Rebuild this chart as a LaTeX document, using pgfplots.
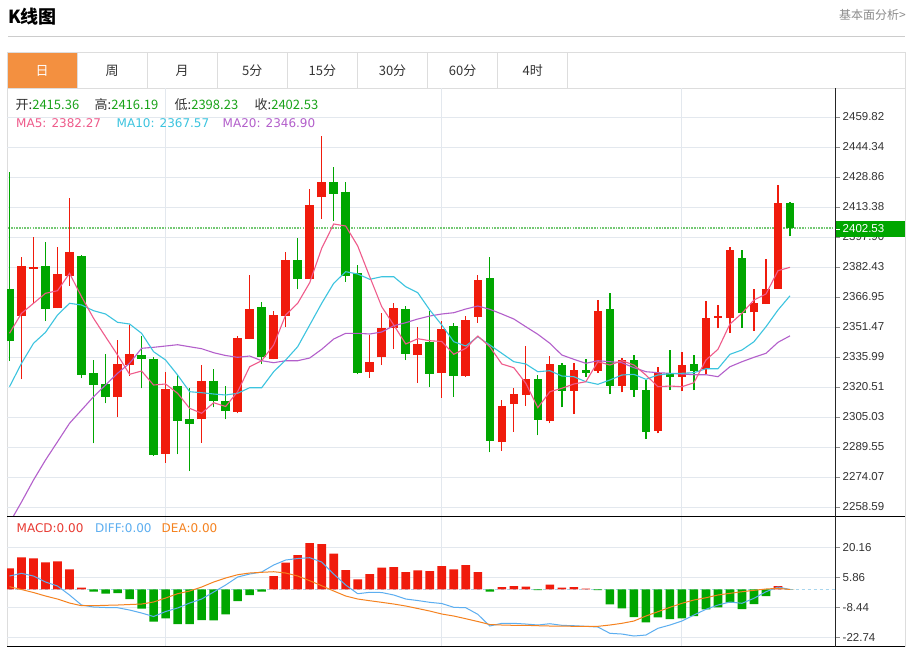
\documentclass[border=0pt]{standalone}
\usepackage{fontspec}
\usepackage{pgfplots}
\usepackage{pgfplotstable}
\pgfplotsset{compat=1.18}
\newfontfamily\cjk{Noto Sans CJK SC}
\newfontfamily\tickf{Liberation Sans}
\newfontfamily\maf{DejaVu Sans}
\definecolor{cred}{HTML}{F01B0C}
\definecolor{cgreen}{HTML}{00A600}
\definecolor{ma5c}{HTML}{EF5B8B}
\definecolor{ma10c}{HTML}{3CC4DF}
\definecolor{ma20c}{HTML}{B35FCB}
\definecolor{diffc}{HTML}{5CAEF0}
\definecolor{deac}{HTML}{F5821F}
\definecolor{macdc}{HTML}{E83B33}
\definecolor{infog}{HTML}{1AA31A}
\definecolor{gridc}{HTML}{E3E8EE}
\definecolor{framec}{HTML}{DDDDDD}
\definecolor{tabc}{HTML}{F39040}
\definecolor{txtc}{HTML}{333333}
\definecolor{zeroc}{HTML}{A9D6EE}
\definecolor{pricel}{HTML}{74C874}

% red (rising) candles: index open high low close
\pgfplotstableread{
k o h l c
1 2357.29 2387.73 2324.47 2382.93
2 2381.54 2398.05 2363.33 2382.57
4 2361.11 2392.74 2361.11 2378.65
5 2377.93 2417.87 2372.77 2390.31
9 2315.34 2344.75 2305.17 2332.37
10 2332.00 2352.49 2326.33 2337.53
13 2285.93 2328.39 2281.44 2319.31
16 2303.83 2331.85 2291.76 2323.75
19 2307.60 2346.81 2306.93 2345.63
20 2345.27 2378.29 2345.27 2360.59
22 2335.10 2359.56 2334.79 2357.80
23 2357.13 2390.31 2351.61 2385.88
25 2376.23 2422.67 2376.23 2414.41
26 2418.38 2450.01 2407.19 2426.12
30 2328.24 2347.33 2325.30 2333.55
31 2335.82 2358.53 2331.85 2350.94
32 2350.94 2363.69 2340.11 2361.11
34 2337.01 2351.61 2322.72 2342.69
36 2327.88 2354.55 2314.98 2350.27
38 2326.17 2357.13 2325.81 2355.07
39 2356.77 2378.29 2353.68 2375.71
41 2292.12 2313.79 2287.63 2310.85
42 2311.73 2319.83 2297.43 2316.73
43 2316.37 2341.65 2310.85 2324.63
45 2302.95 2336.49 2301.77 2332.52
47 2318.59 2333.04 2306.57 2329.27
49 2328.91 2365.39 2327.88 2359.87
51 2321.17 2335.31 2317.76 2334.43
54 2297.95 2330.82 2296.61 2327.57
56 2325.81 2338.71 2318.43 2331.85
58 2329.63 2364.87 2327.21 2355.95
59 2356.26 2362.81 2350.79 2357.29
60 2355.95 2392.89 2348.52 2391.19
62 2359.04 2371.07 2349.39 2363.69
63 2363.33 2386.55 2363.33 2371.07
64 2371.07 2424.73 2371.07 2415.29
}\upk

% green (falling) candles
\pgfplotstableread{
k o h l c
0 2370.91 2431.59 2333.91 2344.23
3 2382.78 2395.47 2354.55 2360.75
6 2388.09 2388.61 2324.99 2326.54
7 2327.57 2334.43 2291.45 2321.53
8 2321.89 2337.37 2312.09 2315.49
11 2336.86 2346.81 2319.83 2334.95
12 2335.10 2336.13 2285.05 2285.56
14 2321.01 2326.69 2285.77 2302.95
15 2303.99 2319.83 2277.15 2301.41
17 2323.75 2329.94 2310.02 2313.43
18 2313.43 2321.27 2303.83 2308.27
21 2361.62 2364.51 2332.37 2335.82
24 2385.88 2397.23 2370.91 2376.07
27 2426.12 2433.86 2406.31 2420.24
28 2421.27 2426.28 2374.83 2377.93
29 2379.17 2383.45 2327.05 2327.88
33 2360.59 2362.29 2334.43 2337.37
35 2343.87 2359.71 2320.65 2327.05
37 2351.97 2353.37 2315.49 2326.17
40 2376.74 2387.73 2286.80 2292.48
44 2324.63 2326.69 2295.58 2303.32
46 2331.70 2332.73 2310.02 2318.59
48 2329.27 2334.95 2325.81 2327.57
50 2360.59 2368.85 2316.73 2321.01
52 2334.43 2337.01 2315.49 2318.95
53 2318.95 2324.11 2293.67 2297.43
55 2327.57 2339.59 2318.95 2325.81
57 2332.37 2337.01 2318.95 2328.75
61 2386.91 2391.19 2351.10 2358.53
65 2415.36 2416.19 2398.23 2402.53
}\downk

% moving averages and MACD
\pgfplotstableread{
k ma5 ma10 ma20 macd diff dea
0 2348.21 2320.65 2250.32 10.12 6.43 1.32
1 2358.53 2332.73 2261.16 15.38 7.72 -0.02
2 2363.69 2343.05 2272.51 14.90 6.43 -1.46
3 2368.85 2348.72 2282.83 12.99 3.56 -3.13
4 2370.19 2357.65 2292.27 13.46 1.65 -4.57
5 2379.17 2363.69 2301.77 9.64 -2.65 -6.48
6 2367.09 2362.81 2308.63 0.84 -7.44 -7.77
7 2355.95 2359.87 2315.49 -1.08 -8.39 -7.77
8 2346.45 2358.17 2321.53 -2.03 -8.63 -7.58
9 2337.01 2353.88 2327.57 -1.70 -8.73 -7.44
10 2327.05 2353.01 2332.73 -4.57 -9.83 -7.20
11 2328.75 2348.21 2340.47 -9.21 -11.26 -6.96
12 2321.53 2338.71 2340.98 -15.43 -12.94 -6.00
13 2322.05 2334.43 2341.65 -13.80 -10.55 -4.09
14 2317.25 2326.69 2342.32 -16.53 -8.87 -2.03
15 2309.51 2318.07 2341.29 -16.53 -6.48 -0.74
16 2306.93 2317.56 2340.26 -14.61 -4.57 1.17
17 2312.40 2316.89 2338.20 -14.76 -1.22 3.56
18 2310.44 2316.37 2336.75 -11.89 2.13 5.48
19 2318.07 2317.25 2335.82 -5.52 5.95 7.05
20 2330.97 2320.14 2336.49 -2.65 7.39 7.87
21 2334.07 2320.14 2334.07 -1.08 8.35 8.20
22 2342.17 2328.39 2333.04 6.43 11.69 8.49
23 2357.65 2334.43 2334.07 12.79 14.09 7.87
24 2363.69 2341.29 2334.07 16.48 14.80 6.43
25 2374.32 2352.49 2335.46 22.22 15.19 4.19
26 2392.07 2363.69 2339.95 21.74 13.13 1.79
27 2404.61 2374.01 2345.27 17.10 7.39 -0.74
28 2403.57 2379.99 2348.21 9.30 2.13 -3.13
29 2393.25 2378.81 2348.21 4.85 -2.03 -4.57
30 2377.41 2376.07 2347.85 7.39 -1.36 -5.38
31 2361.93 2377.41 2348.88 10.40 -1.46 -6.15
32 2352.49 2377.41 2352.13 10.74 -2.65 -6.96
33 2342.69 2372.25 2353.68 8.35 -4.57 -7.92
34 2345.42 2369.16 2355.59 9.16 -5.29 -9.11
35 2344.39 2360.23 2357.13 8.82 -6.15 -10.31
36 2343.98 2352.49 2358.17 11.22 -6.72 -11.74
37 2337.37 2343.87 2358.84 9.64 -8.54 -12.70
38 2340.47 2341.65 2360.75 11.69 -8.73 -13.99
39 2346.81 2346.45 2362.29 8.35 -11.89 -15.33
40 2341.29 2342.17 2360.59 -1.08 -17.48 -16.76
41 2332.37 2337.89 2358.17 1.17 -16.19 -17.00
42 2330.46 2333.55 2355.59 1.65 -16.19 -17.15
43 2322.41 2332.37 2351.61 1.32 -16.53 -17.15
44 2309.82 2328.39 2347.69 -0.30 -17.00 -17.34
45 2318.07 2328.91 2343.05 2.27 -16.38 -17.48
46 2319.83 2326.17 2337.01 0.84 -17.15 -17.48
47 2322.05 2325.81 2334.79 1.17 -17.34 -17.63
48 2323.23 2323.23 2332.73 0.36 -17.63 -17.63
49 2333.55 2321.89 2334.07 -0.30 -17.96 -17.63
50 2331.85 2324.11 2333.55 -7.10 -20.97 -17.00
51 2334.07 2326.69 2333.04 -9.02 -21.31 -16.19
52 2331.85 2327.05 2330.46 -13.18 -22.26 -15.09
53 2326.69 2324.47 2328.39 -15.71 -21.79 -12.70
54 2320.65 2326.69 2327.88 -13.32 -18.58 -10.64
55 2321.01 2327.36 2327.57 -14.13 -17.00 -8.54
56 2320.65 2327.57 2327.21 -13.80 -15.09 -6.62
57 2322.72 2327.88 2326.84 -12.70 -12.22 -5.05
58 2334.43 2329.94 2326.84 -9.49 -9.49 -3.95
59 2339.95 2329.94 2325.81 -8.54 -7.44 -2.65
60 2353.01 2337.37 2330.97 -6.34 -6.00 -1.84
61 2358.53 2339.59 2333.55 -9.35 -6.62 -1.08
62 2365.39 2343.87 2335.82 -6.96 -4.23 -0.41
63 2368.49 2351.61 2337.89 -3.13 -1.08 0.22
64 2380.51 2360.23 2343.56 1.65 1.17 0.55
65 2382.27 2367.57 2346.90 0.00 0.00 0.00
}\ind

\pgfplotsset{
  kpanel/.style={
    anchor=north west, scale only axis, width=828.5pt,
    xmin=-0.208, xmax=68.79,
    axis line style={draw=none},
    ytick pos=right, yticklabel pos=right,
    tick align=outside, major tick length=4pt,
    ytick style={draw=black!45, line width=0.8pt},
    xtick={13,36,56}, xticklabels={}, xtick style={draw=none},
    grid=major, grid style={draw=gridc, line width=0.9pt},
    yticklabel style={font=\tickf\fontsize{11.5}{12}\selectfont, text=txtc, inner sep=0pt, xshift=3pt},
  },
}

\begin{document}
\begin{tikzpicture}
\useasboundingbox (0,0) rectangle (912pt,-649pt);
\fill[white] (0,0) rectangle (912pt,-649pt);

\begin{scope}[x=1pt,y=-1pt]
  % title bar
  \node[anchor=west, inner sep=0pt, text=black] at (8,17) {\cjk\bfseries\fontsize{18}{18}\selectfont K线图};
  \node[anchor=east, inner sep=0pt, text=black!45] at (906,15) {\cjk\fontsize{12}{12}\selectfont 基本面分析>};
  \draw[black!20, line width=1.3pt] (8,36.5) -- (905,36.5);
  % tabs
  \fill[tabc] (7,52) rectangle (77.1,88);
  \draw[framec, line width=0.9pt] (7,52) -- (905,52);
  \draw[framec, line width=0.9pt] (7,88.3) -- (905,88.3);
  \draw[framec, line width=0.9pt] (7,52) -- (7,646.7);
  \draw[framec, line width=0.9pt] (905,52) -- (905,646.7);
  \foreach \i in {1,...,8} \draw[framec, line width=0.9pt] (7+70.1*\i,52) -- (7+70.1*\i,88.3);
  \node[text=white, font=\cjk\fontsize{13}{13}\selectfont] at (42,71) {日};
  \foreach \i/\t in {1/周,2/月,3/5分,4/15分,5/30分,6/60分,7/4时}
    \node[text=txtc, font=\cjk\fontsize{13}{13}\selectfont] at (42+70.1*\i,71) {\t};
\end{scope}

% price panel
\begin{axis}[kpanel, at={(7pt,-88.3pt)}, height=428.4pt,
  ymin=2253.57, ymax=2474.63,
  ytick={2258.59,2274.07,2289.55,2305.03,2320.51,2335.99,2351.47,2366.95,2382.43,2397.90,2413.38,2428.86,2444.34,2459.82},
  yticklabels={2258.59,2274.07,2289.55,2305.03,2320.51,2335.99,2351.47,2366.95,2382.43,2397.90,2413.38,2428.86,2444.34,2459.82},
]
  \addplot[pricel, line width=1.4pt, dash pattern=on 1.6pt off 1.1pt] coordinates {(-1,2402.53) (70,2402.53)};
  % wicks
  \addplot[cred, line width=1.3pt, quiver={u=0, v=\thisrow{h}-\thisrow{l}}] table[x=k, y=l] {\upk};
  \addplot[cgreen, line width=1.3pt, quiver={u=0, v=\thisrow{h}-\thisrow{l}}] table[x=k, y=l] {\downk};
  % bodies
  \addplot[cred, line width=8.6pt, quiver={u=0, v=\thisrow{c}-\thisrow{o}}] table[x=k, y=o] {\upk};
  \addplot[cgreen, line width=8.6pt, quiver={u=0, v=\thisrow{c}-\thisrow{o}}] table[x=k, y=o] {\downk};
  % moving averages
  \addplot[ma20c, line width=1.1pt] table[x=k, y=ma20] {\ind};
  \addplot[ma10c, line width=1.1pt] table[x=k, y=ma10] {\ind};
  \addplot[ma5c, line width=1.1pt] table[x=k, y=ma5] {\ind};
\end{axis}

% MACD panel
\begin{axis}[kpanel, at={(7pt,-516.7pt)}, height=130pt,
  ymin=-27.38, ymax=34.80,
  ytick={-22.74,-8.44,5.86,20.16},
  yticklabels={-22.74,-8.44,5.86,20.16},
]
  \addplot[zeroc, line width=1pt, dash pattern=on 3pt off 3pt] coordinates {(-1,0) (70,0)};
  \addplot[ybar, bar width=8.6pt, bar shift=0pt, fill=cred, draw=none, restrict y to domain=0:100] table[x=k, y=macd] {\ind};
  \addplot[ybar, bar width=8.6pt, bar shift=0pt, fill=cgreen, draw=none, restrict y to domain=-100:0] table[x=k, y=macd] {\ind};
  \addplot[diffc, line width=1pt] table[x=k, y=diff] {\ind};
  \addplot[deac, line width=1pt] table[x=k, y=dea] {\ind};
\end{axis}

\begin{scope}[x=1pt,y=-1pt]
  % panel borders and price axis
  \draw[black, line width=1.3pt] (7,516.7) -- (905,516.7);
  \draw[black, line width=1.3pt] (7,646.7) -- (905,646.7);
  \draw[black!85, line width=1.2pt] (835.5,88.3) -- (835.5,646.7);
  % current price tag
  \fill[cgreen] (836.3,220.7) rectangle (905,237.3);
  \draw[white, line width=0.8pt] (836.3,229) -- (840,229);
  \node[anchor=west, inner sep=0pt, text=white, font=\tickf\fontsize{11.5}{12}\selectfont] at (842.5,229) {2402.53};
  % info lines
  \begin{scope}[every node/.style={anchor=west, inner sep=0pt}]
    \node[font=\cjk\fontsize{13}{13}\selectfont] at (15.5,105) {\color{txtc}开:\color{infog}2415.36};
    \node[font=\cjk\fontsize{13}{13}\selectfont] at (94.5,105) {\color{txtc}高:\color{infog}2416.19};
    \node[font=\cjk\fontsize{13}{13}\selectfont] at (174.5,105) {\color{txtc}低:\color{infog}2398.23};
    \node[font=\cjk\fontsize{13}{13}\selectfont] at (254.5,105) {\color{txtc}收:\color{infog}2402.53};
    \node[font=\maf\fontsize{12}{12}\selectfont, text=ma5c] at (16,123.5) {MA5: 2382.27};
    \node[font=\maf\fontsize{12}{12}\selectfont, text=ma10c] at (116.5,123.5) {MA10: 2367.57};
    \node[font=\maf\fontsize{12}{12}\selectfont, text=ma20c] at (222.5,123.5) {MA20: 2346.90};
    \node[font=\maf\fontsize{12}{12}\selectfont, text=macdc] at (16.5,528.5) {MACD:0.00};
    \node[font=\maf\fontsize{12}{12}\selectfont, text=diffc] at (95,528.5) {DIFF:0.00};
    \node[font=\maf\fontsize{12}{12}\selectfont, text=deac] at (161.5,528.5) {DEA:0.00};
  \end{scope}
\end{scope}
\end{tikzpicture}
\end{document}
